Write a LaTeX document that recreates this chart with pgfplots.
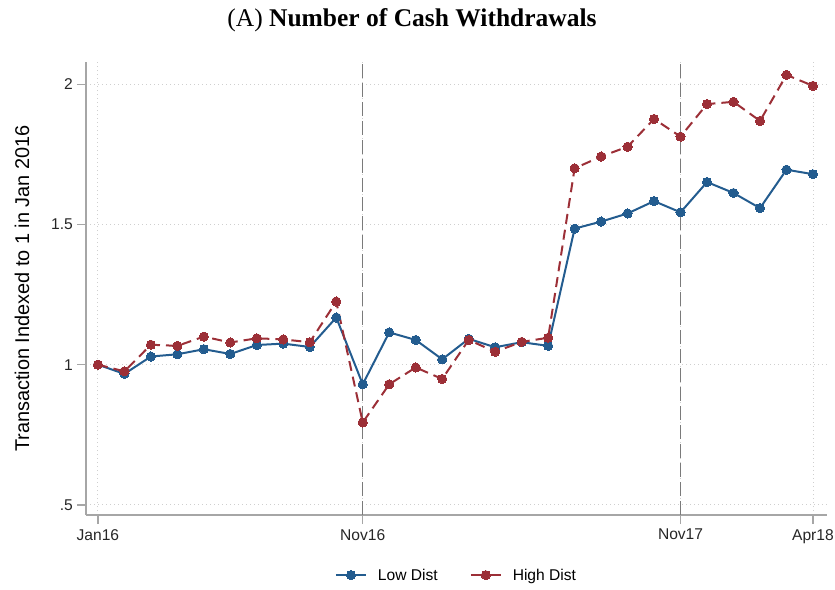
\documentclass[border=0pt]{standalone}
\usepackage{fontspec}
\setmainfont{Liberation Sans}
\newfontfamily\titlefont{Liberation Serif}
\usepackage{pgfplots}
\pgfplotsset{compat=1.18}
\usepackage{pgfplotstable}
\definecolor{lowblue}{HTML}{235C8F}
\definecolor{highred}{HTML}{9C2F37}
\definecolor{axgray}{HTML}{A6A6A6}
\definecolor{gridgray}{HTML}{CFCFCF}
\definecolor{vgray}{HTML}{7A7A7A}

\pgfplotstableread{
m v
0 1.000
1 0.967
2 1.029
3 1.037
4 1.055
5 1.038
6 1.070
7 1.075
8 1.063
9 1.168
10 0.930
11 1.115
12 1.088
13 1.019
14 1.092
15 1.062
16 1.080
17 1.067
18 1.485
19 1.510
20 1.539
21 1.583
22 1.543
23 1.651
24 1.612
25 1.558
26 1.695
27 1.679
}\lowdist

\pgfplotstableread{
m v
0 1.000
1 0.976
2 1.071
3 1.067
4 1.100
5 1.079
6 1.094
7 1.090
8 1.080
9 1.225
10 0.794
11 0.930
12 0.990
13 0.949
14 1.088
15 1.046
16 1.081
17 1.096
18 1.700
19 1.742
20 1.777
21 1.876
22 1.813
23 1.929
24 1.937
25 1.869
26 2.033
27 1.994
}\highdist

\begin{document}
\begin{tikzpicture}[x=1pt,y=1pt]
\begin{axis}[
  at={(86pt,74pt)}, anchor=south west,
  scale only axis, width=741pt, height=453pt,
  xmin=-0.45, xmax=27.53, ymin=0.464, ymax=2.079,
  axis lines*=left,
  axis line style={draw=axgray, line width=1.5pt},
  every tick/.style={draw=axgray, line width=1.2pt},
  tick align=outside, major tick length=9pt,
  xtick={0,10,22,27}, xticklabels={Jan16,Nov16,Nov17,Apr18},
  ytick={0.5,1,1.5,2}, yticklabels={.5,1,1.5,2},
  xtick pos=bottom, ytick pos=left,
  minor tick num=0,
  ticklabel style={font=\fontsize{15.6}{18}\selectfont, text=black!85},
  /pgf/number format/assume math mode=true,
  xticklabel style={inner sep=0pt, yshift=-5pt},
  yticklabel style={inner sep=0pt, xshift=-4pt},
  grid=major,
  major grid style={draw=gridgray, line width=0.9pt, dash pattern=on 1pt off 3pt},
  ylabel={Transaction Indexed to 1 in Jan 2016},
  every axis y label/.style={at={(-64pt,0.5)}, rotate=90, anchor=center, font=\fontsize{19.9}{22}\selectfont},
  legend style={at={(0.5,-0.1327)}, anchor=center, draw=none, fill=none,
    font=\fontsize{15.6}{18}\selectfont, legend columns=2,
    /tikz/every odd column/.append style={column sep=9pt},
    /tikz/every even column/.append style={column sep=30pt}},
  legend cell align=left,
  legend image code/.code={\draw[#1, solid] (0pt,0pt) -- (30pt,0pt);
     \draw[#1, solid] plot[only marks] coordinates {(15pt,0pt)};},
  clip=false,
]
\addplot[draw=vgray, line width=1.4pt, dash pattern=on 14pt off 5pt, forget plot] coordinates {(10,0.464) (10,2.079)};
\addplot[draw=vgray, line width=1.4pt, dash pattern=on 14pt off 5pt, forget plot] coordinates {(22,0.464) (22,2.079)};
\addplot[color=lowblue, line width=2pt, mark=*, mark size=4.6pt, mark options={solid, fill=lowblue, draw=lowblue, line width=0pt}] table[x=m,y=v] {\lowdist};
\addlegendentry{Low Dist}
\addplot[color=highred, line width=2pt, dash pattern=on 10pt off 6pt, mark=*, mark size=4.6pt, mark options={solid, fill=highred, draw=highred, line width=0pt}] table[x=m,y=v] {\highdist};
\addlegendentry{High Dist}
\end{axis}
\node[anchor=base, font=\titlefont\fontsize{25.5}{28}\selectfont] at (412pt,562pt) {(A)\ \textbf{Number of Cash Withdrawals}};
\pgfresetboundingbox
\path[use as bounding box] (0,0) rectangle (835pt,589pt);
\end{tikzpicture}
\end{document}
